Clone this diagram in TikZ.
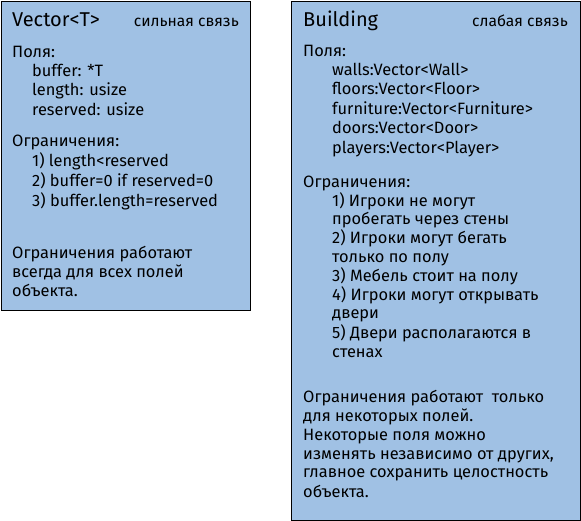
\documentclass[tikz,border=0pt]{standalone}
\usepackage{fontspec}
\setmainfont{Fira Sans}
\definecolor{cardfill}{RGB}{160,193,228}
\begin{document}
\begin{tikzpicture}[x=1pt,y=-1pt,
  card/.style={draw=black, line width=1.5pt, fill=cardfill, inner sep=0pt, anchor=north west},
  line/.style={anchor=base west, inner sep=0pt, font=\fontsize{16.4}{19}\selectfont},
  title/.style={line, font=\fontsize{20}{23}\selectfont},
  kind/.style={line, anchor=base east, font=\fontsize{15.6}{18}\selectfont},
]
\useasboundingbox (0,0) rectangle (581,521);

% the two cards
\node[card, minimum width=249pt, minimum height=309pt] (vcard) at (0.75,0.75) {};
\node[card, minimum width=289pt, minimum height=519pt] (bcard) at (290.75,0.75) {};

% Vector<T>
\node[title] (vtitle) at (12,27) {Vector<T>};
\node[kind]  (vkind)  at (239,27) {сильная связь};
\node[line] (vf)  at (12,58)  {Поля:};
\node[line] (vf1) at (32,77)  {buffer: *T};
\node[line] (vf2) at (32,96)  {length: usize};
\node[line] (vf3) at (32,116) {reserved: usize};
\node[line] (vc)  at (12,147) {Ограничения:};
\node[line] (vc1) at (32,167) {1) length<reserved};
\node[line] (vc2) at (32,187) {2) buffer=0 if reserved=0};
\node[line] (vc3) at (32,207) {3) buffer.length=reserved};
\node[line] (vn1) at (12,259) {Ограничения работают};
\node[line] (vn2) at (12,278) {всегда для всех полей};
\node[line] (vn3) at (12,297) {объекта.};

% Building
\node[title] (btitle) at (303,27) {Building};
\node[kind]  (bkind)  at (568,27) {слабая связь};
\node[line] (bf)  at (303,57)  {Поля:};
\node[line] (bf1) at (332,76)  {walls:Vector<Wall>};
\node[line] (bf2) at (332,95)  {floors:Vector<Floor>};
\node[line] (bf3) at (332,115) {furniture:Vector<Furniture>};
\node[line] (bf4) at (332,134) {doors:Vector<Door>};
\node[line] (bf5) at (332,154) {players:Vector<Player>};
\node[line] (bc)  at (303,188) {Ограничения:};
\node[line] (bc1) at (332,207) {1) Игроки не могут};
\node[line] (bc2) at (332,225) {пробегать через стены};
\node[line] (bc3) at (332,244) {2) Игроки могут бегать};
\node[line] (bc4) at (332,263) {только по полу};
\node[line] (bc5) at (332,282) {3) Мебель стоит на полу};
\node[line] (bc6) at (332,301) {4) Игроки могут открывать};
\node[line] (bc7) at (332,319) {двери};
\node[line] (bc8) at (332,338) {5) Двери располагаются в};
\node[line] (bc9) at (332,357) {стенах};
\node[line] (bn1) at (303,402) {Ограничения работают\ \ только};
\node[line] (bn2) at (303,421) {для некоторых полей.};
\node[line] (bn3) at (303,440) {Некоторые поля можно};
\node[line] (bn4) at (303,459) {изменять независимо от других,};
\node[line] (bn5) at (303,477) {главное сохранить целостность};
\node[line] (bn6) at (303,497) {объекта.};
\end{tikzpicture}
\end{document}
